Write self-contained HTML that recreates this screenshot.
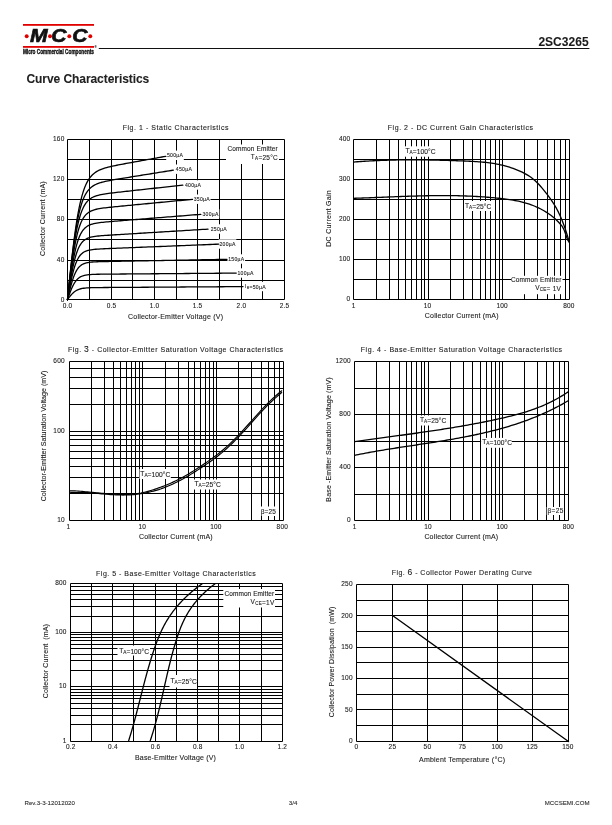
<!DOCTYPE html>
<html><head><meta charset="utf-8"><style>
html,body{margin:0;padding:0;background:#fff;}
body{width:612px;height:825px;overflow:hidden;position:relative;}
svg{position:absolute;left:0;top:0;will-change:transform;}
</style></head><body>
<svg width="612" height="825" viewBox="0 0 612 825" font-family="'Liberation Sans', sans-serif">
<style>text{stroke:#1a1a1a;stroke-width:0.1px;} text[font-weight=bold]{stroke:#1a1a1a;stroke-width:0.08px;}</style>
<rect x="23.00" y="24.00" width="71.00" height="1.80" fill="#e10000"/>
<rect x="23.00" y="46.00" width="71.00" height="1.80" fill="#e10000"/>
<circle cx="26.7" cy="36.2" r="1.95" fill="#e10000"/>
<circle cx="50.0" cy="36.2" r="1.95" fill="#e10000"/>
<circle cx="69.3" cy="36.2" r="1.95" fill="#e10000"/>
<circle cx="90.3" cy="36.2" r="1.95" fill="#e10000"/>
<text x="0" y="0" font-size="17.6" font-weight="bold" font-style="italic" fill="#111" style="stroke:#111;stroke-width:0.6px" transform="translate(29.9,42.2) scale(1.2,1)">M</text>
<text x="0" y="0" font-size="17.6" font-weight="bold" font-style="italic" fill="#111" style="stroke:#111;stroke-width:0.6px" transform="translate(51.2,42.2) scale(1.2,1)">C</text>
<text x="0" y="0" font-size="17.6" font-weight="bold" font-style="italic" fill="#111" style="stroke:#111;stroke-width:0.6px" transform="translate(72.3,42.2) scale(1.2,1)">C</text>
<text x="0" y="0" font-size="6.4" font-weight="bold" fill="#111" style="stroke:#111;stroke-width:0.35px" transform="translate(22.9,53.6) scale(0.740,1)">Micro Commercial Components</text>
<text x="94.6" y="47.6" font-size="3" fill="#111">®</text>
<line x1="98.80" y1="48.50" x2="589.40" y2="48.50" stroke="#111" stroke-width="1.0"/>
<text x="538.40" y="45.70" font-size="12.00" letter-spacing="0.027" font-weight="bold" fill="#1a1a1a" >2SC3265</text>
<text x="26.40" y="82.80" font-size="12.00" letter-spacing="-0.058" font-weight="bold" fill="#222" >Curve Characteristics</text>
<text x="24.50" y="804.70" font-size="6.15" fill="#333" >Rev.3-3-12012020</text>
<text x="288.80" y="804.90" font-size="6.15" fill="#333" >3/4</text>
<text x="544.77" y="805.18" font-size="6.10" fill="#333" >MCCSEMI.COM</text>
<line x1="67.50" y1="139.50" x2="67.50" y2="299.50" stroke="#000" stroke-width="1"/>
<line x1="89.50" y1="139.50" x2="89.50" y2="299.50" stroke="#000" stroke-width="1"/>
<line x1="111.50" y1="139.50" x2="111.50" y2="299.50" stroke="#000" stroke-width="1"/>
<line x1="132.50" y1="139.50" x2="132.50" y2="299.50" stroke="#000" stroke-width="1"/>
<line x1="154.50" y1="139.50" x2="154.50" y2="299.50" stroke="#000" stroke-width="1"/>
<line x1="176.50" y1="139.50" x2="176.50" y2="299.50" stroke="#000" stroke-width="1"/>
<line x1="197.50" y1="139.50" x2="197.50" y2="299.50" stroke="#000" stroke-width="1"/>
<line x1="219.50" y1="139.50" x2="219.50" y2="299.50" stroke="#000" stroke-width="1"/>
<line x1="241.50" y1="139.50" x2="241.50" y2="299.50" stroke="#000" stroke-width="1"/>
<line x1="262.50" y1="139.50" x2="262.50" y2="299.50" stroke="#000" stroke-width="1"/>
<line x1="284.50" y1="139.50" x2="284.50" y2="299.50" stroke="#000" stroke-width="1"/>
<line x1="67.50" y1="139.50" x2="284.50" y2="139.50" stroke="#000" stroke-width="1"/>
<line x1="67.50" y1="159.50" x2="284.50" y2="159.50" stroke="#000" stroke-width="1"/>
<line x1="67.50" y1="179.50" x2="284.50" y2="179.50" stroke="#000" stroke-width="1"/>
<line x1="67.50" y1="199.50" x2="284.50" y2="199.50" stroke="#000" stroke-width="1"/>
<line x1="67.50" y1="219.50" x2="284.50" y2="219.50" stroke="#000" stroke-width="1"/>
<line x1="67.50" y1="239.50" x2="284.50" y2="239.50" stroke="#000" stroke-width="1"/>
<line x1="67.50" y1="260.50" x2="284.50" y2="260.50" stroke="#000" stroke-width="1"/>
<line x1="67.50" y1="280.50" x2="284.50" y2="280.50" stroke="#000" stroke-width="1"/>
<line x1="67.50" y1="299.50" x2="284.50" y2="299.50" stroke="#000" stroke-width="1"/>
<text x="122.70" y="130.11" font-size="7.00" letter-spacing="0.544" fill="#1a1a1a" >Fig. 1 - Static Characteristics</text>
<text x="62.78" y="308.13" font-size="6.50" letter-spacing="0.200" fill="#1a1a1a" >0.0</text>
<text x="106.68" y="308.13" font-size="6.50" letter-spacing="0.200" fill="#1a1a1a" >0.5</text>
<text x="149.78" y="308.13" font-size="6.50" letter-spacing="0.200" fill="#1a1a1a" >1.0</text>
<text x="192.78" y="308.13" font-size="6.50" letter-spacing="0.200" fill="#1a1a1a" >1.5</text>
<text x="236.58" y="308.13" font-size="6.50" letter-spacing="0.200" fill="#1a1a1a" >2.0</text>
<text x="279.78" y="308.13" font-size="6.50" letter-spacing="0.200" fill="#1a1a1a" >2.5</text>
<text x="60.68" y="301.53" font-size="6.50" letter-spacing="0.200" fill="#1a1a1a" >0</text>
<text x="56.87" y="262.03" font-size="6.50" letter-spacing="0.200" fill="#1a1a1a" >40</text>
<text x="56.87" y="221.13" font-size="6.50" letter-spacing="0.200" fill="#1a1a1a" >80</text>
<text x="53.05" y="181.23" font-size="6.50" letter-spacing="0.200" fill="#1a1a1a" >120</text>
<text x="53.05" y="141.23" font-size="6.50" letter-spacing="0.200" fill="#1a1a1a" >160</text>
<text x="128.00" y="318.71" font-size="7.00" letter-spacing="0.225" fill="#1a1a1a" >Collector-Emitter Voltage (V)</text>
<text x="-37.35" y="2.51" font-size="7.00" letter-spacing="0.223" fill="#1a1a1a" transform="translate(42.00,218.70) rotate(-90)">Collector Current (mA)</text>
<rect x="166.20" y="150.60" width="17.61" height="9.40" fill="#fff"/>
<rect x="175.00" y="164.50" width="17.61" height="9.40" fill="#fff"/>
<rect x="184.20" y="180.30" width="17.61" height="9.40" fill="#fff"/>
<rect x="192.90" y="194.50" width="17.61" height="9.40" fill="#fff"/>
<rect x="201.70" y="209.10" width="17.61" height="9.40" fill="#fff"/>
<rect x="209.95" y="224.30" width="17.61" height="9.40" fill="#fff"/>
<rect x="218.70" y="239.30" width="17.61" height="9.40" fill="#fff"/>
<rect x="227.45" y="254.30" width="17.61" height="9.40" fill="#fff"/>
<rect x="236.70" y="268.30" width="17.61" height="9.40" fill="#fff"/>
<rect x="244.20" y="281.80" width="22.13" height="9.40" fill="#fff"/>
<rect x="226.00" y="144.50" width="53.00" height="19.50" fill="#fff"/>
<path d="M67.50,299.60 L67.59,298.73 L67.77,296.96 L68.01,294.54 L68.31,291.59 L68.66,288.17 L69.06,284.34 L69.49,280.12 L69.97,275.58 L70.48,270.75 L71.03,265.69 L71.61,260.42 L72.22,255.02 L72.87,249.52 L73.55,243.98 L74.25,238.45 L74.99,232.99 L75.75,227.64 L76.54,222.45 L77.35,217.45 L78.20,212.69 L79.07,208.19 L79.96,203.97 L80.88,200.04 L81.82,196.41 L82.79,193.08 L83.78,190.05 L84.79,187.31 L85.83,184.84 L86.88,182.63 L87.96,180.65 L89.07,178.90 L90.19,177.34 L91.34,175.97 L92.50,174.75 L93.69,173.68 L94.90,172.73 L96.12,171.88 L97.37,171.13 L98.64,170.46 L99.93,169.86 L101.23,169.32 L102.56,168.83 L103.90,168.37 L105.27,167.95 L106.65,167.56 L108.05,167.19 L109.47,166.84 L110.91,166.50 L112.37,166.18 L113.84,165.86 L115.33,165.55 L116.84,165.25 L118.37,164.94 L119.91,164.64 L121.47,164.35 L123.05,164.05 L124.65,163.75 L126.26,163.45 L127.89,163.15 L129.54,162.85 L131.20,162.55 L132.88,162.24 L134.57,161.93 L136.29,161.62 L138.01,161.31 L139.76,161.00 L141.52,160.68 L143.29,160.36 L145.08,160.04 L146.89,159.71 L148.71,159.38 L150.55,159.05 L152.40,158.72 L154.27,158.38 L156.16,158.04 L158.05,157.70 L159.97,157.36 L161.90,157.01 L163.84,156.66 L165.80,156.31" fill="none" stroke="#000" stroke-width="1.3" stroke-linejoin="round" stroke-linecap="round"/>
<path d="M67.50,299.60 L67.60,298.68 L67.79,296.80 L68.05,294.24 L68.38,291.12 L68.75,287.50 L69.18,283.45 L69.65,279.02 L70.16,274.26 L70.71,269.23 L71.30,263.98 L71.92,258.59 L72.58,253.11 L73.28,247.60 L74.01,242.13 L74.77,236.77 L75.56,231.57 L76.38,226.57 L77.23,221.83 L78.11,217.39 L79.01,213.25 L79.95,209.44 L80.91,205.97 L81.90,202.83 L82.91,200.01 L83.95,197.50 L85.02,195.28 L86.11,193.33 L87.22,191.62 L88.36,190.13 L89.53,188.83 L90.71,187.70 L91.92,186.72 L93.15,185.87 L94.41,185.12 L95.69,184.47 L96.99,183.89 L98.31,183.38 L99.65,182.92 L101.02,182.50 L102.40,182.12 L103.81,181.77 L105.23,181.44 L106.68,181.12 L108.15,180.82 L109.64,180.54 L111.15,180.25 L112.68,179.98 L114.22,179.71 L115.79,179.44 L117.38,179.17 L118.98,178.90 L120.61,178.63 L122.25,178.36 L123.91,178.09 L125.59,177.82 L127.29,177.54 L129.01,177.27 L130.75,176.99 L132.50,176.70 L134.27,176.42 L136.06,176.13 L137.87,175.84 L139.69,175.55 L141.53,175.26 L143.39,174.96 L145.27,174.66 L147.16,174.35 L149.07,174.05 L151.00,173.74 L152.95,173.43 L154.91,173.11 L156.89,172.80 L158.88,172.48 L160.89,172.16 L162.92,171.83 L164.96,171.51 L167.02,171.18 L169.10,170.84 L171.19,170.51 L173.30,170.17" fill="none" stroke="#000" stroke-width="1.3" stroke-linejoin="round" stroke-linecap="round"/>
<path d="M67.50,299.60 L67.60,298.64 L67.82,296.70 L68.10,294.06 L68.46,290.83 L68.87,287.10 L69.33,282.93 L69.84,278.39 L70.40,273.53 L71.00,268.43 L71.64,263.15 L72.32,257.77 L73.04,252.37 L73.80,247.02 L74.59,241.79 L75.42,236.75 L76.28,231.96 L77.17,227.46 L78.10,223.29 L79.06,219.46 L80.05,216.00 L81.07,212.90 L82.11,210.14 L83.19,207.72 L84.30,205.61 L85.43,203.79 L86.59,202.22 L87.78,200.87 L89.00,199.73 L90.24,198.75 L91.50,197.92 L92.80,197.22 L94.11,196.61 L95.46,196.10 L96.83,195.65 L98.22,195.26 L99.63,194.92 L101.07,194.61 L102.54,194.34 L104.02,194.08 L105.53,193.84 L107.07,193.62 L108.62,193.41 L110.20,193.20 L111.80,193.00 L113.42,192.80 L115.07,192.61 L116.73,192.42 L118.42,192.22 L120.13,192.03 L121.85,191.83 L123.60,191.64 L125.37,191.44 L127.17,191.24 L128.98,191.04 L130.81,190.84 L132.66,190.63 L134.53,190.43 L136.42,190.22 L138.34,190.01 L140.27,189.80 L142.22,189.58 L144.19,189.36 L146.17,189.15 L148.18,188.93 L150.21,188.70 L152.25,188.48 L154.32,188.25 L156.40,188.02 L158.50,187.79 L160.62,187.56 L162.76,187.32 L164.91,187.08 L167.09,186.85 L169.28,186.60 L171.49,186.36 L173.72,186.12 L175.96,185.87 L178.22,185.62 L180.50,185.37 L182.80,185.12" fill="none" stroke="#000" stroke-width="1.3" stroke-linejoin="round" stroke-linecap="round"/>
<path d="M67.50,299.60 L67.61,298.64 L67.84,296.69 L68.15,294.05 L68.54,290.82 L68.98,287.09 L69.48,282.94 L70.04,278.44 L70.64,273.65 L71.29,268.67 L71.99,263.58 L72.73,258.45 L73.51,253.38 L74.33,248.45 L75.19,243.73 L76.08,239.28 L77.02,235.16 L77.99,231.39 L78.99,227.99 L80.03,224.96 L81.10,222.31 L82.21,220.00 L83.34,218.01 L84.51,216.32 L85.71,214.89 L86.94,213.68 L88.20,212.67 L89.49,211.83 L90.80,211.12 L92.15,210.53 L93.52,210.04 L94.92,209.61 L96.35,209.25 L97.81,208.94 L99.29,208.66 L100.80,208.41 L102.34,208.19 L103.90,207.98 L105.49,207.78 L107.10,207.59 L108.73,207.41 L110.40,207.23 L112.08,207.06 L113.79,206.88 L115.53,206.71 L117.29,206.53 L119.07,206.36 L120.87,206.18 L122.70,206.01 L124.55,205.83 L126.43,205.65 L128.32,205.46 L130.24,205.28 L132.19,205.09 L134.15,204.90 L136.14,204.71 L138.14,204.52 L140.17,204.32 L142.22,204.13 L144.29,203.93 L146.39,203.73 L148.50,203.52 L150.64,203.32 L152.79,203.11 L154.97,202.90 L157.17,202.69 L159.38,202.48 L161.62,202.26 L163.88,202.05 L166.16,201.83 L168.45,201.61 L170.77,201.39 L173.11,201.16 L175.46,200.94 L177.84,200.71 L180.24,200.48 L182.65,200.25 L185.08,200.01 L187.54,199.78 L190.01,199.54 L192.50,199.30" fill="none" stroke="#000" stroke-width="1.3" stroke-linejoin="round" stroke-linecap="round"/>
<path d="M67.50,299.60 L67.62,298.69 L67.86,296.85 L68.20,294.35 L68.60,291.31 L69.08,287.80 L69.61,283.90 L70.20,279.69 L70.85,275.25 L71.54,270.66 L72.29,266.02 L73.07,261.41 L73.91,256.92 L74.78,252.62 L75.70,248.59 L76.65,244.88 L77.65,241.51 L78.68,238.50 L79.76,235.86 L80.86,233.57 L82.01,231.61 L83.18,229.96 L84.40,228.57 L85.64,227.41 L86.92,226.45 L88.23,225.67 L89.57,225.02 L90.95,224.48 L92.35,224.04 L93.79,223.67 L95.25,223.36 L96.75,223.09 L98.27,222.85 L99.82,222.65 L101.40,222.46 L103.01,222.28 L104.65,222.12 L106.32,221.96 L108.01,221.80 L109.73,221.65 L111.47,221.50 L113.24,221.36 L115.04,221.21 L116.87,221.06 L118.72,220.91 L120.59,220.76 L122.49,220.60 L124.42,220.45 L126.37,220.29 L128.34,220.13 L130.34,219.97 L132.36,219.81 L134.41,219.65 L136.48,219.48 L138.57,219.31 L140.69,219.14 L142.83,218.97 L145.00,218.80 L147.18,218.63 L149.39,218.45 L151.63,218.27 L153.88,218.09 L156.16,217.91 L158.46,217.72 L160.78,217.54 L163.12,217.35 L165.48,217.16 L167.87,216.97 L170.28,216.78 L172.71,216.58 L175.16,216.39 L177.63,216.19 L180.12,215.99 L182.63,215.79 L185.17,215.59 L187.72,215.38 L190.30,215.18 L192.89,214.97 L195.51,214.76 L198.14,214.55 L200.80,214.34" fill="none" stroke="#000" stroke-width="1.3" stroke-linejoin="round" stroke-linecap="round"/>
<path d="M67.50,299.60 L67.63,298.77 L67.88,297.08 L68.23,294.78 L68.66,291.98 L69.16,288.77 L69.73,285.21 L70.35,281.39 L71.03,277.39 L71.76,273.30 L72.54,269.20 L73.37,265.20 L74.25,261.36 L75.17,257.76 L76.14,254.45 L77.15,251.47 L78.20,248.83 L79.29,246.53 L80.42,244.57 L81.58,242.91 L82.79,241.53 L84.03,240.39 L85.31,239.46 L86.62,238.71 L87.97,238.09 L89.35,237.60 L90.76,237.20 L92.21,236.87 L93.69,236.60 L95.21,236.37 L96.75,236.18 L98.33,236.01 L99.93,235.86 L101.57,235.72 L103.24,235.59 L104.93,235.46 L106.66,235.34 L108.41,235.23 L110.20,235.11 L112.01,235.00 L113.85,234.88 L115.72,234.76 L117.61,234.65 L119.53,234.53 L121.48,234.41 L123.46,234.29 L125.46,234.16 L127.49,234.04 L129.55,233.92 L131.63,233.79 L133.73,233.66 L135.87,233.53 L138.02,233.40 L140.21,233.26 L142.41,233.13 L144.65,232.99 L146.90,232.86 L149.18,232.72 L151.49,232.58 L153.82,232.43 L156.17,232.29 L158.55,232.15 L160.95,232.00 L163.37,231.85 L165.82,231.70 L168.28,231.55 L170.78,231.40 L173.29,231.25 L175.83,231.09 L178.39,230.94 L180.97,230.78 L183.58,230.62 L186.20,230.46 L188.85,230.30 L191.52,230.13 L194.22,229.97 L196.93,229.80 L199.67,229.64 L202.42,229.47 L205.20,229.30 L208.00,229.13" fill="none" stroke="#000" stroke-width="1.3" stroke-linejoin="round" stroke-linecap="round"/>
<path d="M67.50,299.60 L67.64,298.85 L67.91,297.32 L68.29,295.24 L68.75,292.71 L69.29,289.83 L69.90,286.65 L70.57,283.26 L71.30,279.75 L72.09,276.21 L72.93,272.74 L73.82,269.41 L74.77,266.30 L75.76,263.46 L76.80,260.93 L77.89,258.72 L79.02,256.83 L80.19,255.25 L81.41,253.94 L82.66,252.88 L83.96,252.03 L85.30,251.35 L86.67,250.81 L88.08,250.39 L89.53,250.05 L91.02,249.79 L92.54,249.57 L94.10,249.40 L95.70,249.26 L97.33,249.14 L98.99,249.03 L100.68,248.93 L102.41,248.85 L104.18,248.76 L105.97,248.68 L107.80,248.60 L109.65,248.52 L111.54,248.44 L113.46,248.37 L115.41,248.29 L117.39,248.21 L119.40,248.12 L121.44,248.04 L123.51,247.96 L125.61,247.88 L127.74,247.79 L129.90,247.70 L132.08,247.62 L134.29,247.53 L136.53,247.44 L138.80,247.35 L141.10,247.26 L143.42,247.16 L145.77,247.07 L148.15,246.97 L150.55,246.88 L152.98,246.78 L155.43,246.68 L157.91,246.58 L160.42,246.48 L162.95,246.38 L165.51,246.28 L168.10,246.18 L170.70,246.07 L173.34,245.97 L176.00,245.86 L178.68,245.75 L181.39,245.64 L184.12,245.54 L186.87,245.43 L189.65,245.31 L192.46,245.20 L195.29,245.09 L198.14,244.97 L201.01,244.86 L203.91,244.74 L206.83,244.63 L209.78,244.51 L212.75,244.39 L215.74,244.27 L218.75,244.15" fill="none" stroke="#000" stroke-width="1.3" stroke-linejoin="round" stroke-linecap="round"/>
<path d="M67.50,299.60 L67.64,298.99 L67.94,297.74 L68.33,296.05 L68.82,294.00 L69.39,291.66 L70.03,289.09 L70.74,286.38 L71.51,283.59 L72.34,280.80 L73.23,278.10 L74.17,275.55 L75.16,273.21 L76.21,271.12 L77.31,269.29 L78.45,267.73 L79.65,266.43 L80.88,265.37 L82.16,264.51 L83.49,263.84 L84.86,263.31 L86.27,262.90 L87.72,262.58 L89.21,262.34 L90.74,262.16 L92.30,262.02 L93.91,261.91 L95.55,261.82 L97.24,261.75 L98.95,261.69 L100.71,261.64 L102.49,261.60 L104.32,261.55 L106.18,261.52 L108.07,261.48 L109.99,261.44 L111.95,261.40 L113.95,261.37 L115.97,261.33 L118.03,261.29 L120.12,261.25 L122.24,261.22 L124.39,261.18 L126.57,261.14 L128.78,261.10 L131.03,261.06 L133.30,261.02 L135.60,260.97 L137.94,260.93 L140.30,260.89 L142.69,260.85 L145.11,260.80 L147.56,260.76 L150.04,260.71 L152.54,260.67 L155.08,260.62 L157.64,260.58 L160.23,260.53 L162.85,260.48 L165.49,260.44 L168.16,260.39 L170.86,260.34 L173.58,260.29 L176.33,260.24 L179.11,260.19 L181.91,260.14 L184.74,260.09 L187.60,260.04 L190.48,259.99 L193.39,259.93 L196.32,259.88 L199.27,259.83 L202.26,259.77 L205.26,259.72 L208.30,259.67 L211.35,259.61 L214.43,259.56 L217.54,259.50 L220.67,259.44 L223.82,259.39 L227.00,259.33" fill="none" stroke="#000" stroke-width="1.3" stroke-linejoin="round" stroke-linecap="round"/>
<path d="M67.50,299.60 L67.65,299.16 L67.96,298.28 L68.38,297.08 L68.90,295.63 L69.50,293.97 L70.18,292.16 L70.92,290.25 L71.74,288.31 L72.62,286.39 L73.56,284.54 L74.56,282.82 L75.61,281.26 L76.72,279.89 L77.88,278.71 L79.09,277.73 L80.35,276.92 L81.66,276.27 L83.01,275.76 L84.42,275.37 L85.86,275.07 L87.35,274.84 L88.89,274.67 L90.46,274.54 L92.08,274.44 L93.74,274.37 L95.44,274.31 L97.18,274.27 L98.96,274.24 L100.78,274.21 L102.63,274.19 L104.52,274.16 L106.45,274.15 L108.42,274.13 L110.42,274.11 L112.46,274.09 L114.53,274.07 L116.64,274.06 L118.78,274.04 L120.96,274.02 L123.17,274.00 L125.41,273.99 L127.69,273.97 L130.00,273.95 L132.34,273.93 L134.71,273.91 L137.12,273.89 L139.55,273.87 L142.02,273.85 L144.52,273.83 L147.05,273.81 L149.61,273.79 L152.20,273.77 L154.83,273.75 L157.48,273.73 L160.16,273.71 L162.87,273.69 L165.61,273.67 L168.38,273.64 L171.17,273.62 L174.00,273.60 L176.85,273.58 L179.73,273.55 L182.64,273.53 L185.58,273.51 L188.55,273.48 L191.54,273.46 L194.56,273.43 L197.61,273.41 L200.69,273.38 L203.79,273.36 L206.92,273.33 L210.07,273.31 L213.25,273.28 L216.46,273.26 L219.69,273.23 L222.95,273.21 L226.24,273.18 L229.55,273.15 L232.89,273.13 L236.25,273.10" fill="none" stroke="#000" stroke-width="1.3" stroke-linejoin="round" stroke-linecap="round"/>
<path d="M67.50,299.60 L67.66,299.39 L67.98,298.95 L68.42,298.36 L68.95,297.65 L69.58,296.84 L70.28,295.96 L71.06,295.03 L71.91,294.09 L72.82,293.16 L73.80,292.28 L74.84,291.46 L75.93,290.73 L77.09,290.10 L78.29,289.56 L79.55,289.11 L80.86,288.75 L82.22,288.46 L83.64,288.24 L85.09,288.06 L86.60,287.93 L88.15,287.83 L89.74,287.76 L91.38,287.70 L93.07,287.65 L94.79,287.62 L96.56,287.59 L98.37,287.57 L100.22,287.55 L102.11,287.53 L104.04,287.52 L106.00,287.50 L108.01,287.49 L110.06,287.47 L112.14,287.46 L114.26,287.45 L116.41,287.43 L118.60,287.42 L120.83,287.40 L123.10,287.39 L125.39,287.37 L127.73,287.36 L130.09,287.34 L132.50,287.33 L134.93,287.31 L137.40,287.30 L139.90,287.28 L142.44,287.26 L145.00,287.25 L147.60,287.23 L150.23,287.21 L152.90,287.19 L155.59,287.18 L158.32,287.16 L161.08,287.14 L163.86,287.12 L166.68,287.11 L169.53,287.09 L172.41,287.07 L175.32,287.05 L178.26,287.03 L181.23,287.01 L184.22,286.99 L187.25,286.97 L190.31,286.95 L193.39,286.93 L196.50,286.91 L199.65,286.89 L202.82,286.87 L206.01,286.85 L209.24,286.83 L212.49,286.81 L215.77,286.79 L219.08,286.76 L222.42,286.74 L225.78,286.72 L229.17,286.70 L232.59,286.68 L236.03,286.65 L239.50,286.63 L243.00,286.61" fill="none" stroke="#000" stroke-width="1.3" stroke-linejoin="round" stroke-linecap="round"/>
<text x="167.00" y="157.13" font-size="5.10" letter-spacing="0.290" fill="#1a1a1a" >500µA</text>
<text x="175.80" y="171.03" font-size="5.10" letter-spacing="0.290" fill="#1a1a1a" >450µA</text>
<text x="185.00" y="186.83" font-size="5.10" letter-spacing="0.290" fill="#1a1a1a" >400µA</text>
<text x="193.70" y="201.03" font-size="5.10" letter-spacing="0.290" fill="#1a1a1a" >350µA</text>
<text x="202.50" y="215.63" font-size="5.10" letter-spacing="0.290" fill="#1a1a1a" >300µA</text>
<text x="210.75" y="230.83" font-size="5.10" letter-spacing="0.290" fill="#1a1a1a" >250µA</text>
<text x="219.50" y="245.83" font-size="5.10" letter-spacing="0.290" fill="#1a1a1a" >200µA</text>
<text x="228.25" y="260.83" font-size="5.10" letter-spacing="0.290" fill="#1a1a1a" >150µA</text>
<text x="237.50" y="274.83" font-size="5.10" letter-spacing="0.290" fill="#1a1a1a" >100µA</text>
<text x="245.00" y="288.33" font-size="5.10" letter-spacing="0.290" fill="#1a1a1a"><tspan>I</tspan><tspan font-size="3.57" dy="0.87">B</tspan><tspan dy="-0.87"></tspan><tspan>=50µA</tspan></text>
<text x="227.50" y="151.13" font-size="6.50" letter-spacing="0.111" fill="#1a1a1a" >Common Emitter</text>
<text x="250.87" y="159.13" font-size="6.50" letter-spacing="0.250" fill="#1a1a1a"><tspan>T</tspan><tspan font-size="4.55" dy="1.10">A</tspan><tspan dy="-1.10"></tspan><tspan>=25</tspan><tspan>°</tspan><tspan>C</tspan></text>
<line x1="353.50" y1="139.50" x2="353.50" y2="299.50" stroke="#000" stroke-width="1"/>
<line x1="376.50" y1="139.50" x2="376.50" y2="299.50" stroke="#000" stroke-width="1"/>
<line x1="389.50" y1="139.50" x2="389.50" y2="299.50" stroke="#000" stroke-width="1"/>
<line x1="398.50" y1="139.50" x2="398.50" y2="299.50" stroke="#000" stroke-width="1"/>
<line x1="405.50" y1="139.50" x2="405.50" y2="299.50" stroke="#000" stroke-width="1"/>
<line x1="411.50" y1="139.50" x2="411.50" y2="299.50" stroke="#000" stroke-width="1"/>
<line x1="416.50" y1="139.50" x2="416.50" y2="299.50" stroke="#000" stroke-width="1"/>
<line x1="421.50" y1="139.50" x2="421.50" y2="299.50" stroke="#000" stroke-width="1"/>
<line x1="424.50" y1="139.50" x2="424.50" y2="299.50" stroke="#000" stroke-width="1"/>
<line x1="428.50" y1="139.50" x2="428.50" y2="299.50" stroke="#000" stroke-width="1"/>
<line x1="450.50" y1="139.50" x2="450.50" y2="299.50" stroke="#000" stroke-width="1"/>
<line x1="463.50" y1="139.50" x2="463.50" y2="299.50" stroke="#000" stroke-width="1"/>
<line x1="472.50" y1="139.50" x2="472.50" y2="299.50" stroke="#000" stroke-width="1"/>
<line x1="480.50" y1="139.50" x2="480.50" y2="299.50" stroke="#000" stroke-width="1"/>
<line x1="485.50" y1="139.50" x2="485.50" y2="299.50" stroke="#000" stroke-width="1"/>
<line x1="490.50" y1="139.50" x2="490.50" y2="299.50" stroke="#000" stroke-width="1"/>
<line x1="495.50" y1="139.50" x2="495.50" y2="299.50" stroke="#000" stroke-width="1"/>
<line x1="499.50" y1="139.50" x2="499.50" y2="299.50" stroke="#000" stroke-width="1"/>
<line x1="502.50" y1="139.50" x2="502.50" y2="299.50" stroke="#000" stroke-width="1"/>
<line x1="524.50" y1="139.50" x2="524.50" y2="299.50" stroke="#000" stroke-width="1"/>
<line x1="537.50" y1="139.50" x2="537.50" y2="299.50" stroke="#000" stroke-width="1"/>
<line x1="547.50" y1="139.50" x2="547.50" y2="299.50" stroke="#000" stroke-width="1"/>
<line x1="554.50" y1="139.50" x2="554.50" y2="299.50" stroke="#000" stroke-width="1"/>
<line x1="560.50" y1="139.50" x2="560.50" y2="299.50" stroke="#000" stroke-width="1"/>
<line x1="565.50" y1="139.50" x2="565.50" y2="299.50" stroke="#000" stroke-width="1"/>
<line x1="569.50" y1="139.50" x2="569.50" y2="299.50" stroke="#000" stroke-width="1"/>
<line x1="353.50" y1="139.50" x2="569.50" y2="139.50" stroke="#000" stroke-width="1"/>
<line x1="353.50" y1="159.50" x2="569.50" y2="159.50" stroke="#000" stroke-width="1"/>
<line x1="353.50" y1="179.50" x2="569.50" y2="179.50" stroke="#000" stroke-width="1"/>
<line x1="353.50" y1="199.50" x2="569.50" y2="199.50" stroke="#000" stroke-width="1"/>
<line x1="353.50" y1="219.50" x2="569.50" y2="219.50" stroke="#000" stroke-width="1"/>
<line x1="353.50" y1="239.50" x2="569.50" y2="239.50" stroke="#000" stroke-width="1"/>
<line x1="353.50" y1="259.50" x2="569.50" y2="259.50" stroke="#000" stroke-width="1"/>
<line x1="353.50" y1="279.50" x2="569.50" y2="279.50" stroke="#000" stroke-width="1"/>
<line x1="353.50" y1="299.50" x2="569.50" y2="299.50" stroke="#000" stroke-width="1"/>
<rect x="405.00" y="146.30" width="30.80" height="10.40" fill="#fff"/>
<rect x="464.00" y="201.00" width="27.00" height="10.00" fill="#fff"/>
<rect x="511.00" y="275.80" width="51.50" height="18.40" fill="#fff"/>
<path d="M353.70,162.03 L355.51,161.89 L357.32,161.75 L359.14,161.62 L360.95,161.49 L362.76,161.37 L364.57,161.25 L366.38,161.14 L368.19,161.03 L370.01,160.93 L371.82,160.83 L373.63,160.74 L375.44,160.65 L377.25,160.57 L379.06,160.49 L380.88,160.42 L382.69,160.35 L384.50,160.29 L386.31,160.23 L388.12,160.17 L389.94,160.12 L391.75,160.08 L393.56,160.04 L395.37,160.00 L397.18,159.97 L398.99,159.94 L400.81,159.91 L402.62,159.89 L404.43,159.87 L406.24,159.86 L408.05,159.85 L409.86,159.84 L411.68,159.84 L413.49,159.84 L415.30,159.85 L417.11,159.85 L418.92,159.87 L420.74,159.88 L422.55,159.90 L424.36,159.92 L426.17,159.94 L427.98,159.97 L429.79,160.00 L431.61,160.03 L433.42,160.06 L435.23,160.10 L437.04,160.14 L438.85,160.18 L440.66,160.23 L442.48,160.28 L444.29,160.33 L446.10,160.38 L447.91,160.43 L449.72,160.49 L451.54,160.55 L453.35,160.61 L455.16,160.67 L456.97,160.74 L458.78,160.80 L460.59,160.87 L462.41,160.94 L464.22,161.01 L466.03,161.08 L467.84,161.16 L469.65,161.24 L471.46,161.33 L473.28,161.43 L475.09,161.54 L476.90,161.65 L478.71,161.78 L480.52,161.92 L482.34,162.08 L484.15,162.26 L485.96,162.45 L487.77,162.66 L489.58,162.89 L491.39,163.14 L493.21,163.42 L495.02,163.72 L496.83,164.05 L498.64,164.41 L500.45,164.79 L502.26,165.21 L504.08,165.65 L505.89,166.13 L507.70,166.65 L509.51,167.20 L511.32,167.79 L513.14,168.42 L514.95,169.09 L516.76,169.80 L518.57,170.55 L520.38,171.35 L522.19,172.19 L524.01,173.10 L525.82,174.08 L527.63,175.15 L529.44,176.31 L531.25,177.59 L533.06,178.98 L534.88,180.51 L536.69,182.19 L538.50,184.02 L540.31,186.01 L542.12,188.12 L543.94,190.33 L545.75,192.62 L547.56,194.96 L549.37,197.38 L551.18,199.91 L552.99,202.61 L554.81,205.52 L556.62,208.69 L558.43,212.16 L560.24,216.00 L562.05,220.24 L563.86,224.92 L565.68,230.11 L567.49,235.85 L569.30,242.18" fill="none" stroke="#000" stroke-width="1.3" stroke-linejoin="round" stroke-linecap="round"/>
<path d="M353.70,198.32 L355.51,198.26 L357.32,198.20 L359.14,198.14 L360.95,198.08 L362.76,198.01 L364.57,197.95 L366.38,197.88 L368.19,197.81 L370.01,197.74 L371.82,197.67 L373.63,197.60 L375.44,197.52 L377.25,197.45 L379.06,197.38 L380.88,197.30 L382.69,197.23 L384.50,197.16 L386.31,197.08 L388.12,197.01 L389.94,196.94 L391.75,196.86 L393.56,196.79 L395.37,196.72 L397.18,196.65 L398.99,196.58 L400.81,196.52 L402.62,196.45 L404.43,196.38 L406.24,196.32 L408.05,196.26 L409.86,196.20 L411.68,196.14 L413.49,196.09 L415.30,196.03 L417.11,195.98 L418.92,195.93 L420.74,195.89 L422.55,195.84 L424.36,195.80 L426.17,195.77 L427.98,195.73 L429.79,195.70 L431.61,195.67 L433.42,195.65 L435.23,195.63 L437.04,195.61 L438.85,195.60 L440.66,195.59 L442.48,195.59 L444.29,195.59 L446.10,195.60 L447.91,195.60 L449.72,195.62 L451.54,195.64 L453.35,195.66 L455.16,195.69 L456.97,195.72 L458.78,195.76 L460.59,195.81 L462.41,195.86 L464.22,195.92 L466.03,195.98 L467.84,196.05 L469.65,196.12 L471.46,196.20 L473.28,196.29 L475.09,196.39 L476.90,196.49 L478.71,196.59 L480.52,196.71 L482.34,196.83 L484.15,196.96 L485.96,197.09 L487.77,197.24 L489.58,197.39 L491.39,197.55 L493.21,197.72 L495.02,197.89 L496.83,198.07 L498.64,198.26 L500.45,198.46 L502.26,198.67 L504.08,198.89 L505.89,199.12 L507.70,199.36 L509.51,199.61 L511.32,199.89 L513.14,200.19 L514.95,200.50 L516.76,200.85 L518.57,201.22 L520.38,201.62 L522.19,202.06 L524.01,202.53 L525.82,203.04 L527.63,203.59 L529.44,204.18 L531.25,204.82 L533.06,205.51 L534.88,206.24 L536.69,207.03 L538.50,207.88 L540.31,208.78 L542.12,209.74 L543.94,210.76 L545.75,211.85 L547.56,213.01 L549.37,214.24 L551.18,215.56 L552.99,216.99 L554.81,218.53 L556.62,220.19 L558.43,222.00 L560.24,223.97 L562.05,226.19 L563.86,229.37 L565.68,234.26 L567.49,239.56 L569.30,242.34" fill="none" stroke="#000" stroke-width="1.3" stroke-linejoin="round" stroke-linecap="round"/>
<text x="387.80" y="130.41" font-size="7.00" letter-spacing="0.541" fill="#1a1a1a" >Fig. 2 - DC Current Gain Characteristics</text>
<text x="346.58" y="300.73" font-size="6.50" letter-spacing="0.200" fill="#1a1a1a" >0</text>
<text x="338.95" y="260.83" font-size="6.50" letter-spacing="0.200" fill="#1a1a1a" >100</text>
<text x="338.95" y="220.93" font-size="6.50" letter-spacing="0.200" fill="#1a1a1a" >200</text>
<text x="338.95" y="181.03" font-size="6.50" letter-spacing="0.200" fill="#1a1a1a" >300</text>
<text x="338.95" y="141.03" font-size="6.50" letter-spacing="0.200" fill="#1a1a1a" >400</text>
<text x="351.69" y="307.53" font-size="6.50" letter-spacing="0.200" fill="#1a1a1a" >1</text>
<text x="423.78" y="307.53" font-size="6.50" letter-spacing="0.200" fill="#1a1a1a" >10</text>
<text x="496.38" y="307.53" font-size="6.50" letter-spacing="0.200" fill="#1a1a1a" >100</text>
<text x="563.18" y="307.53" font-size="6.50" letter-spacing="0.200" fill="#1a1a1a" >800</text>
<text x="424.85" y="318.31" font-size="7.00" letter-spacing="0.175" fill="#1a1a1a" >Collector Current (mA)</text>
<text x="-28.25" y="2.51" font-size="7.00" letter-spacing="0.312" fill="#1a1a1a" transform="translate(328.80,218.50) rotate(-90)">DC Current Gain</text>
<text x="405.50" y="153.20" font-size="6.70" letter-spacing="0.020" fill="#1a1a1a"><tspan>T</tspan><tspan font-size="4.69" dy="1.14">A</tspan><tspan dy="-1.14"></tspan><tspan>=100</tspan><tspan>°</tspan><tspan>C</tspan></text>
<text x="465.00" y="208.20" font-size="6.70" letter-spacing="0.020" fill="#1a1a1a"><tspan>T</tspan><tspan font-size="4.69" dy="1.14">A</tspan><tspan dy="-1.14"></tspan><tspan>=25</tspan><tspan>°</tspan><tspan>C</tspan></text>
<text x="511.00" y="282.03" font-size="6.50" letter-spacing="0.118" fill="#1a1a1a" >Common Emitter</text>
<text x="535.19" y="290.03" font-size="6.50" letter-spacing="0.250" fill="#1a1a1a"><tspan>V</tspan><tspan font-size="4.55" dy="1.10">CE</tspan><tspan dy="-1.10"></tspan><tspan>= 1V</tspan></text>
<line x1="69.50" y1="361.50" x2="69.50" y2="520.50" stroke="#000" stroke-width="1"/>
<line x1="91.50" y1="361.50" x2="91.50" y2="520.50" stroke="#000" stroke-width="1"/>
<line x1="104.50" y1="361.50" x2="104.50" y2="520.50" stroke="#000" stroke-width="1"/>
<line x1="113.50" y1="361.50" x2="113.50" y2="520.50" stroke="#000" stroke-width="1"/>
<line x1="120.50" y1="361.50" x2="120.50" y2="520.50" stroke="#000" stroke-width="1"/>
<line x1="126.50" y1="361.50" x2="126.50" y2="520.50" stroke="#000" stroke-width="1"/>
<line x1="131.50" y1="361.50" x2="131.50" y2="520.50" stroke="#000" stroke-width="1"/>
<line x1="135.50" y1="361.50" x2="135.50" y2="520.50" stroke="#000" stroke-width="1"/>
<line x1="139.50" y1="361.50" x2="139.50" y2="520.50" stroke="#000" stroke-width="1"/>
<line x1="142.50" y1="361.50" x2="142.50" y2="520.50" stroke="#000" stroke-width="1"/>
<line x1="165.50" y1="361.50" x2="165.50" y2="520.50" stroke="#000" stroke-width="1"/>
<line x1="178.50" y1="361.50" x2="178.50" y2="520.50" stroke="#000" stroke-width="1"/>
<line x1="188.50" y1="361.50" x2="188.50" y2="520.50" stroke="#000" stroke-width="1"/>
<line x1="194.50" y1="361.50" x2="194.50" y2="520.50" stroke="#000" stroke-width="1"/>
<line x1="200.50" y1="361.50" x2="200.50" y2="520.50" stroke="#000" stroke-width="1"/>
<line x1="205.50" y1="361.50" x2="205.50" y2="520.50" stroke="#000" stroke-width="1"/>
<line x1="209.50" y1="361.50" x2="209.50" y2="520.50" stroke="#000" stroke-width="1"/>
<line x1="213.50" y1="361.50" x2="213.50" y2="520.50" stroke="#000" stroke-width="1"/>
<line x1="216.50" y1="361.50" x2="216.50" y2="520.50" stroke="#000" stroke-width="1"/>
<line x1="238.50" y1="361.50" x2="238.50" y2="520.50" stroke="#000" stroke-width="1"/>
<line x1="251.50" y1="361.50" x2="251.50" y2="520.50" stroke="#000" stroke-width="1"/>
<line x1="261.50" y1="361.50" x2="261.50" y2="520.50" stroke="#000" stroke-width="1"/>
<line x1="268.50" y1="361.50" x2="268.50" y2="520.50" stroke="#000" stroke-width="1"/>
<line x1="274.50" y1="361.50" x2="274.50" y2="520.50" stroke="#000" stroke-width="1"/>
<line x1="279.50" y1="361.50" x2="279.50" y2="520.50" stroke="#000" stroke-width="1"/>
<line x1="283.50" y1="361.50" x2="283.50" y2="520.50" stroke="#000" stroke-width="1"/>
<line x1="69.50" y1="520.50" x2="283.50" y2="520.50" stroke="#000" stroke-width="1"/>
<line x1="69.50" y1="493.50" x2="283.50" y2="493.50" stroke="#000" stroke-width="1"/>
<line x1="69.50" y1="477.50" x2="283.50" y2="477.50" stroke="#000" stroke-width="1"/>
<line x1="69.50" y1="466.50" x2="283.50" y2="466.50" stroke="#000" stroke-width="1"/>
<line x1="69.50" y1="458.50" x2="283.50" y2="458.50" stroke="#000" stroke-width="1"/>
<line x1="69.50" y1="451.50" x2="283.50" y2="451.50" stroke="#000" stroke-width="1"/>
<line x1="69.50" y1="445.50" x2="283.50" y2="445.50" stroke="#000" stroke-width="1"/>
<line x1="69.50" y1="439.50" x2="283.50" y2="439.50" stroke="#000" stroke-width="1"/>
<line x1="69.50" y1="435.50" x2="283.50" y2="435.50" stroke="#000" stroke-width="1"/>
<line x1="69.50" y1="431.50" x2="283.50" y2="431.50" stroke="#000" stroke-width="1"/>
<line x1="69.50" y1="404.50" x2="283.50" y2="404.50" stroke="#000" stroke-width="1"/>
<line x1="69.50" y1="388.50" x2="283.50" y2="388.50" stroke="#000" stroke-width="1"/>
<line x1="69.50" y1="377.50" x2="283.50" y2="377.50" stroke="#000" stroke-width="1"/>
<line x1="69.50" y1="368.50" x2="283.50" y2="368.50" stroke="#000" stroke-width="1"/>
<line x1="69.50" y1="361.50" x2="283.50" y2="361.50" stroke="#000" stroke-width="1"/>
<rect x="139.50" y="469.00" width="31.30" height="10.00" fill="#fff"/>
<rect x="193.50" y="479.50" width="27.00" height="10.00" fill="#fff"/>
<rect x="260.00" y="506.50" width="16.60" height="9.50" fill="#fff"/>
<path d="M69.60,490.84 L71.38,490.84 L73.16,490.88 L74.95,490.94 L76.73,491.02 L78.51,491.13 L80.29,491.25 L82.08,491.39 L83.86,491.55 L85.64,491.72 L87.42,491.90 L89.21,492.09 L90.99,492.27 L92.77,492.42 L94.55,492.58 L96.34,492.74 L98.12,492.90 L99.90,493.07 L101.68,493.23 L103.46,493.39 L105.25,493.55 L107.03,493.70 L108.81,493.84 L110.59,493.97 L112.38,494.09 L114.16,494.19 L115.94,494.28 L117.72,494.36 L119.51,494.41 L121.29,494.44 L123.07,494.46 L124.85,494.44 L126.64,494.40 L128.42,494.34 L130.20,494.24 L131.98,494.12 L133.76,493.96 L135.55,493.77 L137.33,493.55 L139.11,493.29 L140.89,493.01 L142.68,492.67 L144.46,492.26 L146.24,491.82 L148.02,491.35 L149.81,490.85 L151.59,490.32 L153.37,489.76 L155.15,489.17 L156.94,488.55 L158.72,487.90 L160.50,487.24 L162.28,486.60 L164.06,485.92 L165.85,485.22 L167.63,484.49 L169.41,483.73 L171.19,482.95 L172.98,482.14 L174.76,481.30 L176.54,480.43 L178.32,479.54 L180.11,478.62 L181.89,477.68 L183.67,476.71 L185.45,475.71 L187.24,474.69 L189.02,473.65 L190.80,472.58 L192.58,471.49 L194.36,470.37 L196.15,469.24 L197.93,468.09 L199.71,466.92 L201.49,465.74 L203.28,464.54 L205.06,463.33 L206.84,462.10 L208.62,460.86 L210.41,459.62 L212.19,458.36 L213.97,457.08 L215.75,455.76 L217.54,454.41 L219.32,453.00 L221.10,451.55 L222.88,450.05 L224.66,448.51 L226.45,446.93 L228.23,445.30 L230.01,443.63 L231.79,441.92 L233.58,440.18 L235.36,438.39 L237.14,436.57 L238.92,434.70 L240.71,432.81 L242.49,430.89 L244.27,428.94 L246.05,426.97 L247.84,424.99 L249.62,423.00 L251.40,421.01 L253.18,419.01 L254.96,417.02 L256.75,415.04 L258.53,413.08 L260.31,411.14 L262.09,409.22 L263.88,407.33 L265.66,405.48 L267.44,403.66 L269.22,401.90 L271.01,400.17 L272.79,398.50 L274.57,396.87 L276.35,395.28 L278.14,393.73 L279.92,392.22 L281.70,390.75" fill="none" stroke="#000" stroke-width="1.15" stroke-linejoin="round" stroke-linecap="round"/>
<path d="M69.60,492.74 L71.38,492.63 L73.16,492.55 L74.95,492.50 L76.73,492.47 L78.51,492.46 L80.29,492.47 L82.08,492.49 L83.86,492.54 L85.64,492.59 L87.42,492.66 L89.21,492.74 L90.99,492.87 L92.77,493.02 L94.55,493.18 L96.34,493.34 L98.12,493.50 L99.90,493.67 L101.68,493.83 L103.46,493.99 L105.25,494.15 L107.03,494.30 L108.81,494.44 L110.59,494.57 L112.38,494.69 L114.16,494.79 L115.94,494.88 L117.72,494.96 L119.51,495.01 L121.29,495.04 L123.07,495.06 L124.85,495.04 L126.64,495.00 L128.42,494.94 L130.20,494.84 L131.98,494.72 L133.76,494.56 L135.55,494.37 L137.33,494.15 L139.11,493.89 L140.89,493.61 L142.68,493.31 L144.46,493.02 L146.24,492.70 L148.02,492.35 L149.81,491.97 L151.59,491.56 L153.37,491.12 L155.15,490.65 L156.94,490.15 L158.72,489.62 L160.50,489.04 L162.28,488.40 L164.06,487.72 L165.85,487.02 L167.63,486.29 L169.41,485.53 L171.19,484.75 L172.98,483.94 L174.76,483.10 L176.54,482.23 L178.32,481.34 L180.11,480.42 L181.89,479.48 L183.67,478.51 L185.45,477.51 L187.24,476.49 L189.02,475.45 L190.80,474.38 L192.58,473.29 L194.36,472.17 L196.15,471.04 L197.93,469.89 L199.71,468.72 L201.49,467.54 L203.28,466.34 L205.06,465.13 L206.84,463.90 L208.62,462.66 L210.41,461.42 L212.19,460.16 L213.97,458.88 L215.75,457.56 L217.54,456.21 L219.32,454.80 L221.10,453.35 L222.88,451.85 L224.66,450.31 L226.45,448.73 L228.23,447.10 L230.01,445.43 L231.79,443.72 L233.58,441.98 L235.36,440.19 L237.14,438.37 L238.92,436.50 L240.71,434.61 L242.49,432.69 L244.27,430.74 L246.05,428.77 L247.84,426.79 L249.62,424.80 L251.40,422.81 L253.18,420.81 L254.96,418.82 L256.75,416.84 L258.53,414.88 L260.31,412.94 L262.09,411.02 L263.88,409.13 L265.66,407.28 L267.44,405.46 L269.22,403.70 L271.01,401.97 L272.79,400.30 L274.57,398.67 L276.35,397.08 L278.14,395.53 L279.92,394.02 L281.70,392.55" fill="none" stroke="#000" stroke-width="1.15" stroke-linejoin="round" stroke-linecap="round"/>
<text x="67.90" y="352.31" font-size="7.00" letter-spacing="0.517" fill="#1a1a1a"><tspan>Fig. </tspan><tspan font-size="8.54">3</tspan><tspan> - Collector-Emitter Saturation Voltage Characteristics</tspan></text>
<text x="57.17" y="522.03" font-size="6.50" letter-spacing="0.200" fill="#1a1a1a" >10</text>
<text x="53.35" y="432.83" font-size="6.50" letter-spacing="0.200" fill="#1a1a1a" >100</text>
<text x="53.35" y="363.23" font-size="6.50" letter-spacing="0.200" fill="#1a1a1a" >600</text>
<text x="66.49" y="528.73" font-size="6.50" letter-spacing="0.200" fill="#1a1a1a" >1</text>
<text x="138.48" y="528.73" font-size="6.50" letter-spacing="0.200" fill="#1a1a1a" >10</text>
<text x="210.18" y="528.73" font-size="6.50" letter-spacing="0.200" fill="#1a1a1a" >100</text>
<text x="276.58" y="528.73" font-size="6.50" letter-spacing="0.200" fill="#1a1a1a" >800</text>
<text x="138.95" y="539.11" font-size="7.00" letter-spacing="0.175" fill="#1a1a1a" >Collector Current (mA)</text>
<text x="-65.25" y="2.51" font-size="7.00" letter-spacing="0.053" fill="#1a1a1a" transform="translate(43.80,436.00) rotate(-90)">Collector-Emitter Saturation Voltage (mV)</text>
<text x="140.30" y="476.10" font-size="6.70" letter-spacing="0.020" fill="#1a1a1a"><tspan>T</tspan><tspan font-size="4.69" dy="1.14">A</tspan><tspan dy="-1.14"></tspan><tspan>=100</tspan><tspan>°</tspan><tspan>C</tspan></text>
<text x="194.50" y="485.90" font-size="6.70" letter-spacing="0.020" fill="#1a1a1a"><tspan>T</tspan><tspan font-size="4.69" dy="1.14">A</tspan><tspan dy="-1.14"></tspan><tspan>=25</tspan><tspan>°</tspan><tspan>C</tspan></text>
<text x="260.80" y="513.53" font-size="6.50" letter-spacing="0.078" fill="#1a1a1a" >β=25</text>
<line x1="354.50" y1="361.50" x2="354.50" y2="520.50" stroke="#000" stroke-width="1"/>
<line x1="376.50" y1="361.50" x2="376.50" y2="520.50" stroke="#000" stroke-width="1"/>
<line x1="389.50" y1="361.50" x2="389.50" y2="520.50" stroke="#000" stroke-width="1"/>
<line x1="399.50" y1="361.50" x2="399.50" y2="520.50" stroke="#000" stroke-width="1"/>
<line x1="406.50" y1="361.50" x2="406.50" y2="520.50" stroke="#000" stroke-width="1"/>
<line x1="411.50" y1="361.50" x2="411.50" y2="520.50" stroke="#000" stroke-width="1"/>
<line x1="416.50" y1="361.50" x2="416.50" y2="520.50" stroke="#000" stroke-width="1"/>
<line x1="421.50" y1="361.50" x2="421.50" y2="520.50" stroke="#000" stroke-width="1"/>
<line x1="424.50" y1="361.50" x2="424.50" y2="520.50" stroke="#000" stroke-width="1"/>
<line x1="428.50" y1="361.50" x2="428.50" y2="520.50" stroke="#000" stroke-width="1"/>
<line x1="450.50" y1="361.50" x2="450.50" y2="520.50" stroke="#000" stroke-width="1"/>
<line x1="463.50" y1="361.50" x2="463.50" y2="520.50" stroke="#000" stroke-width="1"/>
<line x1="472.50" y1="361.50" x2="472.50" y2="520.50" stroke="#000" stroke-width="1"/>
<line x1="480.50" y1="361.50" x2="480.50" y2="520.50" stroke="#000" stroke-width="1"/>
<line x1="486.50" y1="361.50" x2="486.50" y2="520.50" stroke="#000" stroke-width="1"/>
<line x1="491.50" y1="361.50" x2="491.50" y2="520.50" stroke="#000" stroke-width="1"/>
<line x1="495.50" y1="361.50" x2="495.50" y2="520.50" stroke="#000" stroke-width="1"/>
<line x1="499.50" y1="361.50" x2="499.50" y2="520.50" stroke="#000" stroke-width="1"/>
<line x1="502.50" y1="361.50" x2="502.50" y2="520.50" stroke="#000" stroke-width="1"/>
<line x1="524.50" y1="361.50" x2="524.50" y2="520.50" stroke="#000" stroke-width="1"/>
<line x1="537.50" y1="361.50" x2="537.50" y2="520.50" stroke="#000" stroke-width="1"/>
<line x1="546.50" y1="361.50" x2="546.50" y2="520.50" stroke="#000" stroke-width="1"/>
<line x1="553.50" y1="361.50" x2="553.50" y2="520.50" stroke="#000" stroke-width="1"/>
<line x1="559.50" y1="361.50" x2="559.50" y2="520.50" stroke="#000" stroke-width="1"/>
<line x1="564.50" y1="361.50" x2="564.50" y2="520.50" stroke="#000" stroke-width="1"/>
<line x1="568.50" y1="361.50" x2="568.50" y2="520.50" stroke="#000" stroke-width="1"/>
<line x1="354.50" y1="361.50" x2="568.50" y2="361.50" stroke="#000" stroke-width="1"/>
<line x1="354.50" y1="388.50" x2="568.50" y2="388.50" stroke="#000" stroke-width="1"/>
<line x1="354.50" y1="414.50" x2="568.50" y2="414.50" stroke="#000" stroke-width="1"/>
<line x1="354.50" y1="441.50" x2="568.50" y2="441.50" stroke="#000" stroke-width="1"/>
<line x1="354.50" y1="467.50" x2="568.50" y2="467.50" stroke="#000" stroke-width="1"/>
<line x1="354.50" y1="494.50" x2="568.50" y2="494.50" stroke="#000" stroke-width="1"/>
<line x1="354.50" y1="520.50" x2="568.50" y2="520.50" stroke="#000" stroke-width="1"/>
<rect x="419.00" y="415.50" width="28.30" height="10.00" fill="#fff"/>
<rect x="481.10" y="437.90" width="30.90" height="9.90" fill="#fff"/>
<rect x="546.70" y="507.00" width="17.30" height="8.00" fill="#fff"/>
<path d="M354.70,441.70 L356.49,441.45 L358.29,441.19 L360.08,440.93 L361.88,440.68 L363.67,440.42 L365.46,440.17 L367.26,439.92 L369.05,439.67 L370.85,439.42 L372.64,439.17 L374.44,438.92 L376.23,438.67 L378.02,438.43 L379.82,438.18 L381.61,437.93 L383.41,437.69 L385.20,437.44 L386.99,437.20 L388.79,436.95 L390.58,436.71 L392.38,436.46 L394.17,436.22 L395.96,435.97 L397.76,435.73 L399.55,435.48 L401.35,435.24 L403.14,434.99 L404.94,434.74 L406.73,434.49 L408.52,434.24 L410.32,433.99 L412.11,433.74 L413.91,433.49 L415.70,433.24 L417.49,432.99 L419.29,432.73 L421.08,432.47 L422.88,432.22 L424.67,431.96 L426.46,431.69 L428.26,431.43 L430.05,431.17 L431.85,430.90 L433.64,430.63 L435.44,430.36 L437.23,430.09 L439.02,429.81 L440.82,429.54 L442.61,429.26 L444.41,428.97 L446.20,428.69 L447.99,428.40 L449.79,428.11 L451.58,427.82 L453.38,427.53 L455.17,427.23 L456.96,426.93 L458.76,426.62 L460.55,426.31 L462.35,426.00 L464.14,425.69 L465.94,425.37 L467.73,425.05 L469.52,424.73 L471.32,424.40 L473.11,424.07 L474.91,423.73 L476.70,423.39 L478.49,423.05 L480.29,422.70 L482.08,422.35 L483.88,421.99 L485.67,421.63 L487.46,421.26 L489.26,420.89 L491.05,420.52 L492.85,420.14 L494.64,419.76 L496.44,419.37 L498.23,418.98 L500.02,418.58 L501.82,418.17 L503.61,417.76 L505.41,417.35 L507.20,416.92 L508.99,416.49 L510.79,416.05 L512.58,415.60 L514.38,415.13 L516.17,414.66 L517.96,414.17 L519.76,413.67 L521.55,413.15 L523.35,412.62 L525.14,412.08 L526.94,411.51 L528.73,410.93 L530.52,410.33 L532.32,409.71 L534.11,409.07 L535.91,408.41 L537.70,407.72 L539.49,407.01 L541.29,406.28 L543.08,405.53 L544.88,404.75 L546.67,403.94 L548.46,403.10 L550.26,402.24 L552.05,401.35 L553.85,400.43 L555.64,399.47 L557.44,398.49 L559.23,397.47 L561.02,396.42 L562.82,395.34 L564.61,394.22 L566.41,393.07 L568.20,391.87" fill="none" stroke="#000" stroke-width="1.3" stroke-linejoin="round" stroke-linecap="round"/>
<path d="M354.70,455.30 L356.49,454.94 L358.29,454.57 L360.08,454.22 L361.88,453.86 L363.67,453.52 L365.46,453.18 L367.26,452.84 L369.05,452.51 L370.85,452.19 L372.64,451.86 L374.44,451.55 L376.23,451.23 L378.02,450.93 L379.82,450.62 L381.61,450.32 L383.41,450.02 L385.20,449.73 L386.99,449.43 L388.79,449.15 L390.58,448.86 L392.38,448.58 L394.17,448.29 L395.96,448.01 L397.76,447.74 L399.55,447.46 L401.35,447.19 L403.14,446.91 L404.94,446.64 L406.73,446.37 L408.52,446.10 L410.32,445.83 L412.11,445.56 L413.91,445.29 L415.70,445.02 L417.49,444.75 L419.29,444.48 L421.08,444.21 L422.88,443.94 L424.67,443.67 L426.46,443.40 L428.26,443.12 L430.05,442.84 L431.85,442.57 L433.64,442.29 L435.44,442.00 L437.23,441.72 L439.02,441.43 L440.82,441.14 L442.61,440.85 L444.41,440.56 L446.20,440.26 L447.99,439.95 L449.79,439.65 L451.58,439.34 L453.38,439.02 L455.17,438.71 L456.96,438.38 L458.76,438.06 L460.55,437.73 L462.35,437.39 L464.14,437.05 L465.94,436.70 L467.73,436.35 L469.52,435.99 L471.32,435.62 L473.11,435.25 L474.91,434.88 L476.70,434.49 L478.49,434.10 L480.29,433.70 L482.08,433.30 L483.88,432.89 L485.67,432.47 L487.46,432.04 L489.26,431.61 L491.05,431.17 L492.85,430.72 L494.64,430.26 L496.44,429.79 L498.23,429.31 L500.02,428.83 L501.82,428.33 L503.61,427.83 L505.41,427.31 L507.20,426.79 L508.99,426.26 L510.79,425.71 L512.58,425.15 L514.38,424.59 L516.17,424.01 L517.96,423.42 L519.76,422.81 L521.55,422.20 L523.35,421.57 L525.14,420.93 L526.94,420.27 L528.73,419.60 L530.52,418.92 L532.32,418.22 L534.11,417.50 L535.91,416.78 L537.70,416.03 L539.49,415.27 L541.29,414.50 L543.08,413.70 L544.88,412.90 L546.67,412.07 L548.46,411.23 L550.26,410.37 L552.05,409.49 L553.85,408.59 L555.64,407.68 L557.44,406.74 L559.23,405.79 L561.02,404.82 L562.82,403.83 L564.61,402.81 L566.41,401.78 L568.20,400.73" fill="none" stroke="#000" stroke-width="1.3" stroke-linejoin="round" stroke-linecap="round"/>
<text x="360.80" y="352.01" font-size="7.00" letter-spacing="0.539" fill="#1a1a1a" >Fig. 4 - Base-Emitter Saturation Voltage Characteristics</text>
<text x="346.98" y="522.03" font-size="6.50" letter-spacing="0.200" fill="#1a1a1a" >0</text>
<text x="339.35" y="469.43" font-size="6.50" letter-spacing="0.200" fill="#1a1a1a" >400</text>
<text x="339.35" y="416.23" font-size="6.50" letter-spacing="0.200" fill="#1a1a1a" >800</text>
<text x="335.54" y="363.43" font-size="6.50" letter-spacing="0.200" fill="#1a1a1a" >1200</text>
<text x="352.69" y="529.03" font-size="6.50" letter-spacing="0.200" fill="#1a1a1a" >1</text>
<text x="424.28" y="529.03" font-size="6.50" letter-spacing="0.200" fill="#1a1a1a" >10</text>
<text x="496.38" y="529.03" font-size="6.50" letter-spacing="0.200" fill="#1a1a1a" >100</text>
<text x="562.68" y="529.03" font-size="6.50" letter-spacing="0.200" fill="#1a1a1a" >800</text>
<text x="424.40" y="538.51" font-size="7.00" letter-spacing="0.175" fill="#1a1a1a" >Collector Current (mA)</text>
<text x="-62.15" y="2.51" font-size="7.00" letter-spacing="0.157" fill="#1a1a1a" transform="translate(328.50,439.50) rotate(-90)">Base -Emitter Saturation Voltage (mV)</text>
<text x="420.00" y="421.90" font-size="6.70" letter-spacing="0.020" fill="#1a1a1a"><tspan>T</tspan><tspan font-size="4.69" dy="1.14">A</tspan><tspan dy="-1.14"></tspan><tspan>=25</tspan><tspan>°</tspan><tspan>C</tspan></text>
<text x="482.20" y="443.90" font-size="6.70" letter-spacing="0.020" fill="#1a1a1a"><tspan>T</tspan><tspan font-size="4.69" dy="1.14">A</tspan><tspan dy="-1.14"></tspan><tspan>=100</tspan><tspan>°</tspan><tspan>C</tspan></text>
<text x="547.50" y="512.83" font-size="6.50" letter-spacing="0.345" fill="#1a1a1a" >β=25</text>
<line x1="70.50" y1="583.50" x2="70.50" y2="741.50" stroke="#000" stroke-width="1"/>
<line x1="91.50" y1="583.50" x2="91.50" y2="741.50" stroke="#000" stroke-width="1"/>
<line x1="112.50" y1="583.50" x2="112.50" y2="741.50" stroke="#000" stroke-width="1"/>
<line x1="133.50" y1="583.50" x2="133.50" y2="741.50" stroke="#000" stroke-width="1"/>
<line x1="155.50" y1="583.50" x2="155.50" y2="741.50" stroke="#000" stroke-width="1"/>
<line x1="176.50" y1="583.50" x2="176.50" y2="741.50" stroke="#000" stroke-width="1"/>
<line x1="197.50" y1="583.50" x2="197.50" y2="741.50" stroke="#000" stroke-width="1"/>
<line x1="218.50" y1="583.50" x2="218.50" y2="741.50" stroke="#000" stroke-width="1"/>
<line x1="239.50" y1="583.50" x2="239.50" y2="741.50" stroke="#000" stroke-width="1"/>
<line x1="261.50" y1="583.50" x2="261.50" y2="741.50" stroke="#000" stroke-width="1"/>
<line x1="282.50" y1="583.50" x2="282.50" y2="741.50" stroke="#000" stroke-width="1"/>
<line x1="70.50" y1="741.50" x2="282.50" y2="741.50" stroke="#000" stroke-width="1"/>
<line x1="70.50" y1="724.50" x2="282.50" y2="724.50" stroke="#000" stroke-width="1"/>
<line x1="70.50" y1="715.50" x2="282.50" y2="715.50" stroke="#000" stroke-width="1"/>
<line x1="70.50" y1="708.50" x2="282.50" y2="708.50" stroke="#000" stroke-width="1"/>
<line x1="70.50" y1="703.50" x2="282.50" y2="703.50" stroke="#000" stroke-width="1"/>
<line x1="70.50" y1="698.50" x2="282.50" y2="698.50" stroke="#000" stroke-width="1"/>
<line x1="70.50" y1="695.50" x2="282.50" y2="695.50" stroke="#000" stroke-width="1"/>
<line x1="70.50" y1="692.50" x2="282.50" y2="692.50" stroke="#000" stroke-width="1"/>
<line x1="70.50" y1="689.50" x2="282.50" y2="689.50" stroke="#000" stroke-width="1"/>
<line x1="70.50" y1="686.50" x2="282.50" y2="686.50" stroke="#000" stroke-width="1"/>
<line x1="70.50" y1="670.50" x2="282.50" y2="670.50" stroke="#000" stroke-width="1"/>
<line x1="70.50" y1="660.50" x2="282.50" y2="660.50" stroke="#000" stroke-width="1"/>
<line x1="70.50" y1="654.50" x2="282.50" y2="654.50" stroke="#000" stroke-width="1"/>
<line x1="70.50" y1="648.50" x2="282.50" y2="648.50" stroke="#000" stroke-width="1"/>
<line x1="70.50" y1="644.50" x2="282.50" y2="644.50" stroke="#000" stroke-width="1"/>
<line x1="70.50" y1="640.50" x2="282.50" y2="640.50" stroke="#000" stroke-width="1"/>
<line x1="70.50" y1="637.50" x2="282.50" y2="637.50" stroke="#000" stroke-width="1"/>
<line x1="70.50" y1="634.50" x2="282.50" y2="634.50" stroke="#000" stroke-width="1"/>
<line x1="70.50" y1="632.50" x2="282.50" y2="632.50" stroke="#000" stroke-width="1"/>
<line x1="70.50" y1="616.50" x2="282.50" y2="616.50" stroke="#000" stroke-width="1"/>
<line x1="70.50" y1="606.50" x2="282.50" y2="606.50" stroke="#000" stroke-width="1"/>
<line x1="70.50" y1="599.50" x2="282.50" y2="599.50" stroke="#000" stroke-width="1"/>
<line x1="70.50" y1="594.50" x2="282.50" y2="594.50" stroke="#000" stroke-width="1"/>
<line x1="70.50" y1="590.50" x2="282.50" y2="590.50" stroke="#000" stroke-width="1"/>
<line x1="70.50" y1="586.50" x2="282.50" y2="586.50" stroke="#000" stroke-width="1"/>
<line x1="70.50" y1="583.50" x2="282.50" y2="583.50" stroke="#000" stroke-width="1"/>
<rect x="117.50" y="645.50" width="32.50" height="10.00" fill="#fff"/>
<rect x="169.50" y="675.00" width="27.50" height="12.50" fill="#fff"/>
<rect x="223.30" y="589.00" width="51.70" height="18.50" fill="#fff"/>
<path d="M201.95,583.90 L200.13,585.22 L198.35,586.55 L196.62,587.87 L194.94,589.19 L193.31,590.52 L191.72,591.84 L190.18,593.16 L188.68,594.49 L187.23,595.81 L185.82,597.14 L184.45,598.46 L183.12,599.78 L181.83,601.11 L180.58,602.43 L179.36,603.75 L178.19,605.08 L177.05,606.40 L175.94,607.72 L174.87,609.05 L173.84,610.37 L172.84,611.69 L171.86,613.02 L170.92,614.34 L170.01,615.66 L169.13,616.99 L168.27,618.31 L167.45,619.64 L166.65,620.96 L165.87,622.28 L165.12,623.61 L164.40,624.93 L163.69,626.25 L163.01,627.58 L162.35,628.90 L161.71,630.22 L161.08,631.55 L160.48,632.87 L159.89,634.19 L159.32,635.52 L158.77,636.84 L158.23,638.16 L157.70,639.49 L157.19,640.81 L156.69,642.14 L156.20,643.46 L155.72,644.78 L155.25,646.11 L154.78,647.43 L154.33,648.75 L153.88,650.08 L153.44,651.40 L153.00,652.72 L152.57,654.05 L152.15,655.37 L151.73,656.69 L151.31,658.02 L150.90,659.34 L150.50,660.66 L150.10,661.99 L149.70,663.31 L149.31,664.64 L148.92,665.96 L148.54,667.28 L148.16,668.61 L147.79,669.93 L147.41,671.25 L147.05,672.58 L146.68,673.90 L146.32,675.22 L145.96,676.55 L145.60,677.87 L145.25,679.19 L144.90,680.52 L144.55,681.84 L144.20,683.16 L143.86,684.49 L143.51,685.81 L143.17,687.14 L142.83,688.46 L142.49,689.78 L142.15,691.11 L141.81,692.43 L141.48,693.75 L141.14,695.08 L140.81,696.40 L140.47,697.72 L140.14,699.05 L139.80,700.37 L139.46,701.69 L139.13,703.02 L138.79,704.34 L138.45,705.66 L138.11,706.99 L137.78,708.31 L137.43,709.64 L137.09,710.96 L136.75,712.28 L136.40,713.61 L136.06,714.93 L135.71,716.25 L135.35,717.58 L135.00,718.90 L134.64,720.22 L134.28,721.55 L133.92,722.87 L133.56,724.19 L133.19,725.52 L132.81,726.84 L132.44,728.16 L132.06,729.49 L131.68,730.81 L131.29,732.14 L130.90,733.46 L130.50,734.78 L130.10,736.11 L129.69,737.43 L129.28,738.75 L128.87,740.08 L128.45,741.40" fill="none" stroke="#000" stroke-width="1.3" stroke-linejoin="round" stroke-linecap="round"/>
<path d="M214.84,583.90 L213.12,585.22 L211.45,586.55 L209.83,587.87 L208.27,589.19 L206.76,590.52 L205.30,591.84 L203.88,593.16 L202.52,594.49 L201.20,595.81 L199.93,597.14 L198.71,598.46 L197.53,599.78 L196.39,601.11 L195.29,602.43 L194.23,603.75 L193.21,605.08 L192.23,606.40 L191.28,607.72 L190.37,609.05 L189.49,610.37 L188.65,611.69 L187.84,613.02 L187.06,614.34 L186.31,615.66 L185.58,616.99 L184.89,618.31 L184.22,619.64 L183.57,620.96 L182.95,622.28 L182.35,623.61 L181.77,624.93 L181.21,626.25 L180.68,627.58 L180.15,628.90 L179.65,630.22 L179.16,631.55 L178.68,632.87 L178.22,634.19 L177.77,635.52 L177.33,636.84 L176.90,638.16 L176.48,639.49 L176.06,640.81 L175.65,642.14 L175.25,643.46 L174.85,644.78 L174.46,646.11 L174.08,647.43 L173.70,648.75 L173.32,650.08 L172.95,651.40 L172.59,652.72 L172.23,654.05 L171.88,655.37 L171.53,656.69 L171.18,658.02 L170.84,659.34 L170.50,660.66 L170.17,661.99 L169.84,663.31 L169.51,664.64 L169.19,665.96 L168.86,667.28 L168.55,668.61 L168.23,669.93 L167.92,671.25 L167.61,672.58 L167.30,673.90 L166.99,675.22 L166.69,676.55 L166.38,677.87 L166.08,679.19 L165.78,680.52 L165.48,681.84 L165.18,683.16 L164.88,684.49 L164.58,685.81 L164.28,687.14 L163.98,688.46 L163.69,689.78 L163.39,691.11 L163.09,692.43 L162.79,693.75 L162.49,695.08 L162.19,696.40 L161.88,697.72 L161.58,699.05 L161.27,700.37 L160.97,701.69 L160.66,703.02 L160.34,704.34 L160.03,705.66 L159.71,706.99 L159.39,708.31 L159.07,709.64 L158.75,710.96 L158.42,712.28 L158.09,713.61 L157.75,714.93 L157.41,716.25 L157.07,717.58 L156.72,718.90 L156.37,720.22 L156.01,721.55 L155.65,722.87 L155.29,724.19 L154.92,725.52 L154.54,726.84 L154.16,728.16 L153.77,729.49 L153.38,730.81 L152.98,732.14 L152.57,733.46 L152.16,734.78 L151.74,736.11 L151.32,737.43 L150.89,738.75 L150.45,740.08 L150.00,741.40" fill="none" stroke="#000" stroke-width="1.3" stroke-linejoin="round" stroke-linecap="round"/>
<text x="96.10" y="575.61" font-size="7.00" letter-spacing="0.500" fill="#1a1a1a" >Fig. 5 - Base-Emitter Voltage Characteristics</text>
<text x="62.78" y="742.63" font-size="6.50" letter-spacing="0.200" fill="#1a1a1a" >1</text>
<text x="58.97" y="688.20" font-size="6.50" letter-spacing="0.200" fill="#1a1a1a" >10</text>
<text x="55.15" y="633.78" font-size="6.50" letter-spacing="0.200" fill="#1a1a1a" >100</text>
<text x="55.15" y="584.63" font-size="6.50" letter-spacing="0.200" fill="#1a1a1a" >800</text>
<text x="65.88" y="748.93" font-size="6.50" letter-spacing="0.200" fill="#1a1a1a" >0.2</text>
<text x="108.08" y="748.93" font-size="6.50" letter-spacing="0.200" fill="#1a1a1a" >0.4</text>
<text x="150.78" y="748.93" font-size="6.50" letter-spacing="0.200" fill="#1a1a1a" >0.6</text>
<text x="192.98" y="748.93" font-size="6.50" letter-spacing="0.200" fill="#1a1a1a" >0.8</text>
<text x="234.78" y="748.93" font-size="6.50" letter-spacing="0.200" fill="#1a1a1a" >1.0</text>
<text x="277.48" y="748.93" font-size="6.50" letter-spacing="0.200" fill="#1a1a1a" >1.2</text>
<text x="135.00" y="759.91" font-size="7.00" letter-spacing="0.164" fill="#1a1a1a" >Base-Emitter Voltage (V)</text>
<text x="-37.00" y="2.51" font-size="7.00" letter-spacing="0.093" fill="#1a1a1a" transform="translate(45.00,661.20) rotate(-90)">Collector Current  (mA)</text>
<text x="119.20" y="653.20" font-size="6.70" letter-spacing="0.020" fill="#1a1a1a"><tspan>T</tspan><tspan font-size="4.69" dy="1.14">A</tspan><tspan dy="-1.14"></tspan><tspan>=100</tspan><tspan>°</tspan><tspan>C</tspan></text>
<text x="170.50" y="682.90" font-size="6.70" letter-spacing="0.020" fill="#1a1a1a"><tspan>T</tspan><tspan font-size="4.69" dy="1.14">A</tspan><tspan dy="-1.14"></tspan><tspan>=25</tspan><tspan>°</tspan><tspan>C</tspan></text>
<text x="224.50" y="596.03" font-size="6.50" letter-spacing="0.072" fill="#1a1a1a" >Common Emitter</text>
<text x="250.55" y="604.03" font-size="6.50" letter-spacing="0.250" fill="#1a1a1a"><tspan>V</tspan><tspan font-size="4.55" dy="1.10">CE</tspan><tspan dy="-1.10"></tspan><tspan>=1V</tspan></text>
<line x1="356.50" y1="584.50" x2="356.50" y2="741.50" stroke="#000" stroke-width="1"/>
<line x1="392.50" y1="584.50" x2="392.50" y2="741.50" stroke="#000" stroke-width="1"/>
<line x1="427.50" y1="584.50" x2="427.50" y2="741.50" stroke="#000" stroke-width="1"/>
<line x1="462.50" y1="584.50" x2="462.50" y2="741.50" stroke="#000" stroke-width="1"/>
<line x1="497.50" y1="584.50" x2="497.50" y2="741.50" stroke="#000" stroke-width="1"/>
<line x1="532.50" y1="584.50" x2="532.50" y2="741.50" stroke="#000" stroke-width="1"/>
<line x1="568.50" y1="584.50" x2="568.50" y2="741.50" stroke="#000" stroke-width="1"/>
<line x1="356.50" y1="741.50" x2="568.50" y2="741.50" stroke="#000" stroke-width="1"/>
<line x1="356.50" y1="725.50" x2="568.50" y2="725.50" stroke="#000" stroke-width="1"/>
<line x1="356.50" y1="709.50" x2="568.50" y2="709.50" stroke="#000" stroke-width="1"/>
<line x1="356.50" y1="694.50" x2="568.50" y2="694.50" stroke="#000" stroke-width="1"/>
<line x1="356.50" y1="678.50" x2="568.50" y2="678.50" stroke="#000" stroke-width="1"/>
<line x1="356.50" y1="662.50" x2="568.50" y2="662.50" stroke="#000" stroke-width="1"/>
<line x1="356.50" y1="647.50" x2="568.50" y2="647.50" stroke="#000" stroke-width="1"/>
<line x1="356.50" y1="631.50" x2="568.50" y2="631.50" stroke="#000" stroke-width="1"/>
<line x1="356.50" y1="615.50" x2="568.50" y2="615.50" stroke="#000" stroke-width="1"/>
<line x1="356.50" y1="600.50" x2="568.50" y2="600.50" stroke="#000" stroke-width="1"/>
<line x1="356.50" y1="584.50" x2="568.50" y2="584.50" stroke="#000" stroke-width="1"/>
<path d="M392.50,615.50 L568.50,741.50" fill="none" stroke="#000" stroke-width="1.3" stroke-linejoin="round" stroke-linecap="round"/>
<text x="391.70" y="575.31" font-size="7.00" letter-spacing="0.455" fill="#1a1a1a"><tspan>Fig. </tspan><tspan font-size="8.54">6</tspan><tspan> - Collector Power Derating Curve</tspan></text>
<text x="348.88" y="743.03" font-size="6.50" letter-spacing="0.200" fill="#1a1a1a" >0</text>
<text x="345.07" y="711.67" font-size="6.50" letter-spacing="0.200" fill="#1a1a1a" >50</text>
<text x="341.25" y="680.31" font-size="6.50" letter-spacing="0.200" fill="#1a1a1a" >100</text>
<text x="341.25" y="648.95" font-size="6.50" letter-spacing="0.200" fill="#1a1a1a" >150</text>
<text x="341.25" y="617.59" font-size="6.50" letter-spacing="0.200" fill="#1a1a1a" >200</text>
<text x="341.25" y="586.23" font-size="6.50" letter-spacing="0.200" fill="#1a1a1a" >250</text>
<text x="354.39" y="748.93" font-size="6.50" letter-spacing="0.200" fill="#1a1a1a" >0</text>
<text x="388.58" y="748.93" font-size="6.50" letter-spacing="0.200" fill="#1a1a1a" >25</text>
<text x="423.58" y="748.93" font-size="6.50" letter-spacing="0.200" fill="#1a1a1a" >50</text>
<text x="458.48" y="748.93" font-size="6.50" letter-spacing="0.200" fill="#1a1a1a" >75</text>
<text x="491.38" y="748.93" font-size="6.50" letter-spacing="0.200" fill="#1a1a1a" >100</text>
<text x="526.38" y="748.93" font-size="6.50" letter-spacing="0.200" fill="#1a1a1a" >125</text>
<text x="562.18" y="748.93" font-size="6.50" letter-spacing="0.200" fill="#1a1a1a" >150</text>
<text x="419.10" y="762.41" font-size="7.00" letter-spacing="0.200" fill="#1a1a1a"><tspan>Ambient Temperature (</tspan><tspan>°</tspan><tspan>C)</tspan></text>
<text x="-55.30" y="2.51" font-size="7.00" letter-spacing="0.126" fill="#1a1a1a" transform="translate(331.80,662.00) rotate(-90)">Collector Power Dissipation  (mW)</text>
</svg>
</body></html>
